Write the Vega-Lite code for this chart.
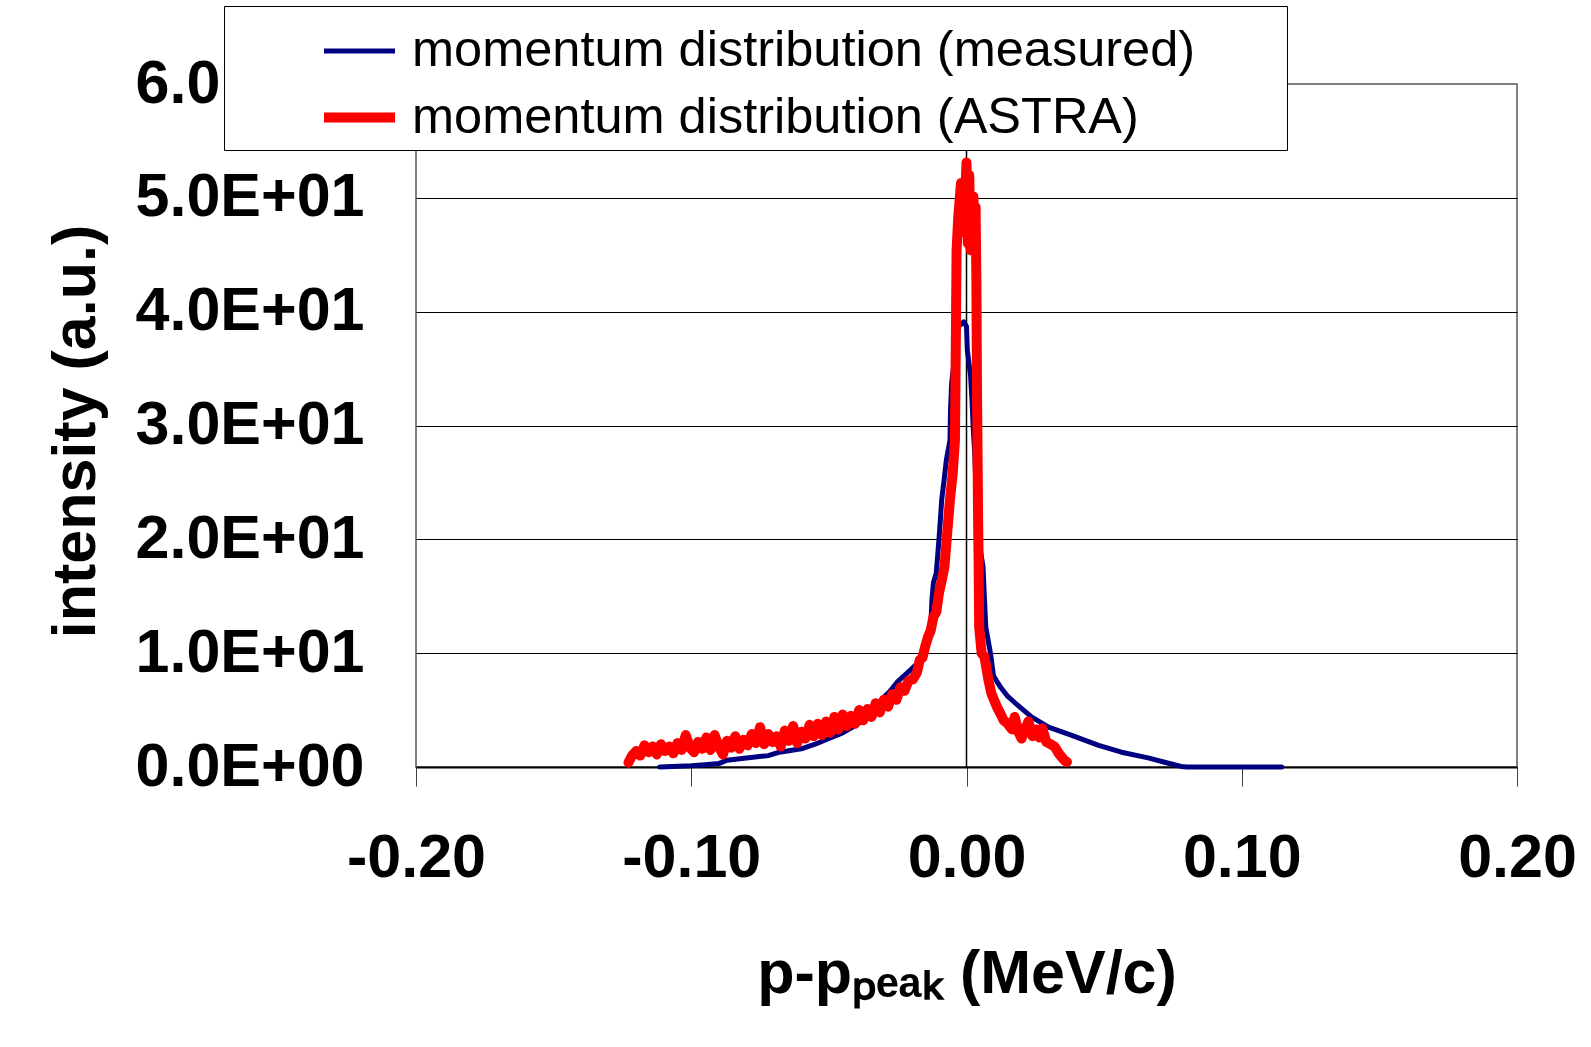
{
  "$schema": "https://vega.github.io/schema/vega-lite/v6.json",
  "width": 1101,
  "height": 683,
  "autosize": {"type": "none"},
  "padding": {"left": 416, "top": 84, "right": 74, "bottom": 280},
  "background": "white",
  "config": {"font": "Liberation Sans", "view": {"stroke": "#808080", "strokeWidth": 2}},
  "datasets": {
    "curves": [
      {"s": "measured", "p": -0.1115, "v": 0},
      {"s": "measured", "p": -0.1, "v": 0.1},
      {"s": "measured", "p": -0.095, "v": 0.2},
      {"s": "measured", "p": -0.09, "v": 0.3},
      {"s": "measured", "p": -0.087, "v": 0.6},
      {"s": "measured", "p": -0.08, "v": 0.8},
      {"s": "measured", "p": -0.072, "v": 1.0},
      {"s": "measured", "p": -0.068, "v": 1.3},
      {"s": "measured", "p": -0.06, "v": 1.6},
      {"s": "measured", "p": -0.055, "v": 2.0},
      {"s": "measured", "p": -0.05, "v": 2.5},
      {"s": "measured", "p": -0.045, "v": 3.0},
      {"s": "measured", "p": -0.04, "v": 3.7},
      {"s": "measured", "p": -0.035, "v": 4.6},
      {"s": "measured", "p": -0.031, "v": 5.9},
      {"s": "measured", "p": -0.028, "v": 6.6},
      {"s": "measured", "p": -0.025, "v": 7.5},
      {"s": "measured", "p": -0.02, "v": 8.6},
      {"s": "measured", "p": -0.017, "v": 9.3},
      {"s": "measured", "p": -0.015, "v": 9.8},
      {"s": "measured", "p": -0.013, "v": 12.3},
      {"s": "measured", "p": -0.0125, "v": 14.9},
      {"s": "measured", "p": -0.012, "v": 16.2},
      {"s": "measured", "p": -0.011, "v": 17.0},
      {"s": "measured", "p": -0.01, "v": 20.0},
      {"s": "measured", "p": -0.0095, "v": 21.7},
      {"s": "measured", "p": -0.009, "v": 23.5},
      {"s": "measured", "p": -0.008, "v": 25.5},
      {"s": "measured", "p": -0.0073, "v": 27.0},
      {"s": "measured", "p": -0.006, "v": 28.7},
      {"s": "measured", "p": -0.0058, "v": 31.4},
      {"s": "measured", "p": -0.0054, "v": 33.7},
      {"s": "measured", "p": -0.004, "v": 36.6},
      {"s": "measured", "p": -0.003, "v": 38.7},
      {"s": "measured", "p": -0.001, "v": 39.1},
      {"s": "measured", "p": 0.0, "v": 38.7},
      {"s": "measured", "p": 0.0003, "v": 36.6},
      {"s": "measured", "p": 0.0015, "v": 34.3},
      {"s": "measured", "p": 0.002, "v": 32.2},
      {"s": "measured", "p": 0.0025, "v": 29.5},
      {"s": "measured", "p": 0.003, "v": 27.5},
      {"s": "measured", "p": 0.0037, "v": 22.8},
      {"s": "measured", "p": 0.0044, "v": 20.0},
      {"s": "measured", "p": 0.006, "v": 17.6},
      {"s": "measured", "p": 0.0065, "v": 14.9},
      {"s": "measured", "p": 0.007, "v": 12.3},
      {"s": "measured", "p": 0.0087, "v": 10.0},
      {"s": "measured", "p": 0.0098, "v": 8.0},
      {"s": "measured", "p": 0.0124, "v": 7.0},
      {"s": "measured", "p": 0.015, "v": 6.2},
      {"s": "measured", "p": 0.0178, "v": 5.6},
      {"s": "measured", "p": 0.0236, "v": 4.4},
      {"s": "measured", "p": 0.0298, "v": 3.5},
      {"s": "measured", "p": 0.038, "v": 2.8},
      {"s": "measured", "p": 0.048, "v": 1.9},
      {"s": "measured", "p": 0.0563, "v": 1.3},
      {"s": "measured", "p": 0.066, "v": 0.8},
      {"s": "measured", "p": 0.073, "v": 0.35},
      {"s": "measured", "p": 0.078, "v": 0.05},
      {"s": "measured", "p": 0.08, "v": 0},
      {"s": "measured", "p": 0.1145, "v": 0},
      {"s": "ASTRA", "p": -0.1228, "v": 0.4},
      {"s": "ASTRA", "p": -0.1215, "v": 1.0},
      {"s": "ASTRA", "p": -0.12, "v": 1.4},
      {"s": "ASTRA", "p": -0.1185, "v": 1.0},
      {"s": "ASTRA", "p": -0.117, "v": 1.9},
      {"s": "ASTRA", "p": -0.1155, "v": 1.3},
      {"s": "ASTRA", "p": -0.114, "v": 1.8},
      {"s": "ASTRA", "p": -0.1125, "v": 1.1},
      {"s": "ASTRA", "p": -0.111, "v": 2.0},
      {"s": "ASTRA", "p": -0.1095, "v": 1.4},
      {"s": "ASTRA", "p": -0.108, "v": 1.8},
      {"s": "ASTRA", "p": -0.1065, "v": 1.2},
      {"s": "ASTRA", "p": -0.105, "v": 2.1},
      {"s": "ASTRA", "p": -0.1035, "v": 1.5},
      {"s": "ASTRA", "p": -0.102, "v": 2.8},
      {"s": "ASTRA", "p": -0.1005, "v": 1.7},
      {"s": "ASTRA", "p": -0.099, "v": 1.3},
      {"s": "ASTRA", "p": -0.0975, "v": 2.2},
      {"s": "ASTRA", "p": -0.096, "v": 1.6},
      {"s": "ASTRA", "p": -0.0945, "v": 2.6},
      {"s": "ASTRA", "p": -0.093, "v": 1.5},
      {"s": "ASTRA", "p": -0.0915, "v": 2.8},
      {"s": "ASTRA", "p": -0.09, "v": 1.8},
      {"s": "ASTRA", "p": -0.0885, "v": 1.1},
      {"s": "ASTRA", "p": -0.087, "v": 2.3},
      {"s": "ASTRA", "p": -0.0855, "v": 1.7},
      {"s": "ASTRA", "p": -0.084, "v": 2.7},
      {"s": "ASTRA", "p": -0.0825, "v": 1.6},
      {"s": "ASTRA", "p": -0.081, "v": 2.4},
      {"s": "ASTRA", "p": -0.0795, "v": 1.9},
      {"s": "ASTRA", "p": -0.078, "v": 2.9},
      {"s": "ASTRA", "p": -0.0765, "v": 2.1},
      {"s": "ASTRA", "p": -0.075, "v": 3.5},
      {"s": "ASTRA", "p": -0.0735, "v": 2.0},
      {"s": "ASTRA", "p": -0.072, "v": 2.9},
      {"s": "ASTRA", "p": -0.0705, "v": 2.2},
      {"s": "ASTRA", "p": -0.069, "v": 2.7},
      {"s": "ASTRA", "p": -0.0675, "v": 1.8},
      {"s": "ASTRA", "p": -0.066, "v": 3.2},
      {"s": "ASTRA", "p": -0.0645, "v": 2.3},
      {"s": "ASTRA", "p": -0.063, "v": 3.6},
      {"s": "ASTRA", "p": -0.0615, "v": 2.1},
      {"s": "ASTRA", "p": -0.06, "v": 3.1},
      {"s": "ASTRA", "p": -0.0585, "v": 2.5},
      {"s": "ASTRA", "p": -0.057, "v": 3.7},
      {"s": "ASTRA", "p": -0.0555, "v": 2.7},
      {"s": "ASTRA", "p": -0.054, "v": 3.8},
      {"s": "ASTRA", "p": -0.0525, "v": 2.8},
      {"s": "ASTRA", "p": -0.051, "v": 4.0},
      {"s": "ASTRA", "p": -0.0495, "v": 3.0},
      {"s": "ASTRA", "p": -0.048, "v": 4.4},
      {"s": "ASTRA", "p": -0.0465, "v": 3.3},
      {"s": "ASTRA", "p": -0.045, "v": 4.6},
      {"s": "ASTRA", "p": -0.0435, "v": 3.6},
      {"s": "ASTRA", "p": -0.042, "v": 4.5},
      {"s": "ASTRA", "p": -0.0405, "v": 3.8},
      {"s": "ASTRA", "p": -0.039, "v": 5.0},
      {"s": "ASTRA", "p": -0.0375, "v": 4.1},
      {"s": "ASTRA", "p": -0.036, "v": 5.1},
      {"s": "ASTRA", "p": -0.0345, "v": 4.4},
      {"s": "ASTRA", "p": -0.033, "v": 5.6},
      {"s": "ASTRA", "p": -0.0315, "v": 4.8},
      {"s": "ASTRA", "p": -0.03, "v": 5.9},
      {"s": "ASTRA", "p": -0.0285, "v": 5.3},
      {"s": "ASTRA", "p": -0.027, "v": 6.4},
      {"s": "ASTRA", "p": -0.0255, "v": 5.9},
      {"s": "ASTRA", "p": -0.024, "v": 7.0},
      {"s": "ASTRA", "p": -0.0225, "v": 6.7},
      {"s": "ASTRA", "p": -0.021, "v": 7.6},
      {"s": "ASTRA", "p": -0.0195, "v": 7.7},
      {"s": "ASTRA", "p": -0.018, "v": 8.3},
      {"s": "ASTRA", "p": -0.017, "v": 9.4},
      {"s": "ASTRA", "p": -0.016, "v": 9.6},
      {"s": "ASTRA", "p": -0.015, "v": 10.6},
      {"s": "ASTRA", "p": -0.014, "v": 11.4},
      {"s": "ASTRA", "p": -0.013, "v": 12.0},
      {"s": "ASTRA", "p": -0.012, "v": 13.2},
      {"s": "ASTRA", "p": -0.011, "v": 13.6},
      {"s": "ASTRA", "p": -0.01, "v": 15.3},
      {"s": "ASTRA", "p": -0.009, "v": 16.4},
      {"s": "ASTRA", "p": -0.008, "v": 17.6},
      {"s": "ASTRA", "p": -0.007, "v": 20.6},
      {"s": "ASTRA", "p": -0.006, "v": 23.5},
      {"s": "ASTRA", "p": -0.005, "v": 25.8},
      {"s": "ASTRA", "p": -0.0042, "v": 28.7},
      {"s": "ASTRA", "p": -0.004, "v": 34.0},
      {"s": "ASTRA", "p": -0.0038, "v": 39.5},
      {"s": "ASTRA", "p": -0.0036, "v": 45.4},
      {"s": "ASTRA", "p": -0.003, "v": 48.3},
      {"s": "ASTRA", "p": -0.002, "v": 51.3},
      {"s": "ASTRA", "p": -0.001, "v": 47.0},
      {"s": "ASTRA", "p": 0.0, "v": 53.1},
      {"s": "ASTRA", "p": 0.0005, "v": 46.0},
      {"s": "ASTRA", "p": 0.001, "v": 52.0},
      {"s": "ASTRA", "p": 0.0015, "v": 45.4},
      {"s": "ASTRA", "p": 0.002, "v": 49.5},
      {"s": "ASTRA", "p": 0.0025, "v": 50.1},
      {"s": "ASTRA", "p": 0.003, "v": 46.5},
      {"s": "ASTRA", "p": 0.0033, "v": 49.2},
      {"s": "ASTRA", "p": 0.0036, "v": 42.5},
      {"s": "ASTRA", "p": 0.0038, "v": 33.7},
      {"s": "ASTRA", "p": 0.004, "v": 27.9},
      {"s": "ASTRA", "p": 0.0042, "v": 22.0},
      {"s": "ASTRA", "p": 0.0044, "v": 18.2},
      {"s": "ASTRA", "p": 0.0046, "v": 12.3},
      {"s": "ASTRA", "p": 0.0055, "v": 10.0},
      {"s": "ASTRA", "p": 0.0065, "v": 9.7},
      {"s": "ASTRA", "p": 0.008, "v": 7.6},
      {"s": "ASTRA", "p": 0.009, "v": 6.5},
      {"s": "ASTRA", "p": 0.01, "v": 5.9},
      {"s": "ASTRA", "p": 0.011, "v": 5.3},
      {"s": "ASTRA", "p": 0.0125, "v": 4.6},
      {"s": "ASTRA", "p": 0.0135, "v": 4.1},
      {"s": "ASTRA", "p": 0.015, "v": 3.8},
      {"s": "ASTRA", "p": 0.0165, "v": 3.3},
      {"s": "ASTRA", "p": 0.0175, "v": 4.4},
      {"s": "ASTRA", "p": 0.019, "v": 3.0},
      {"s": "ASTRA", "p": 0.02, "v": 2.5},
      {"s": "ASTRA", "p": 0.0215, "v": 3.4},
      {"s": "ASTRA", "p": 0.0225, "v": 4.0},
      {"s": "ASTRA", "p": 0.024, "v": 2.7},
      {"s": "ASTRA", "p": 0.0255, "v": 3.3},
      {"s": "ASTRA", "p": 0.0265, "v": 2.6},
      {"s": "ASTRA", "p": 0.0275, "v": 3.4},
      {"s": "ASTRA", "p": 0.029, "v": 2.2},
      {"s": "ASTRA", "p": 0.0305, "v": 2.0},
      {"s": "ASTRA", "p": 0.032, "v": 1.8},
      {"s": "ASTRA", "p": 0.0335, "v": 1.2},
      {"s": "ASTRA", "p": 0.0345, "v": 0.9},
      {"s": "ASTRA", "p": 0.0355, "v": 0.6},
      {"s": "ASTRA", "p": 0.0365, "v": 0.45}
    ]
  },
  "layer": [
    {
      "data": {"values": [{}]},
      "mark": {"type": "rule", "color": "black", "strokeWidth": 1.5},
      "encoding": {"x": {"datum": 0, "type": "quantitative"}}
    },
    {
      "data": {"name": "curves"},
      "mark": {"type": "line", "strokeCap": "round", "strokeJoin": "round"},
      "encoding": {
        "x": {
          "field": "p",
          "type": "quantitative",
          "scale": {"domain": [-0.2, 0.2], "nice": false, "zero": false},
          "axis": {
            "values": [-0.2, -0.1, 0, 0.1, 0.2],
            "labelExpr": "datum.value < 0 ? '-' + format(-datum.value, '.2f') : format(datum.value, '.2f')",
            "grid": false,
            "labelFlush": false,
            "labelOverlap": false,
            "labelFont": "Liberation Sans",
            "labelFontSize": 61,
            "labelFontWeight": "bold",
            "labelColor": "black",
            "labelPadding": 42,
            "tickSize": 19,
            "tickColor": "#404040",
            "domainColor": "black",
            "domainWidth": 2,
            "title": "p-p\u209a\u2091\u2090\u2096 (MeV/c)",
            "titleFont": "Liberation Sans",
            "titleFontSize": 61,
            "titleFontWeight": "bold",
            "titleColor": "black",
            "titlePadding": 56
          }
        },
        "y": {
          "field": "v",
          "type": "quantitative",
          "scale": {"domain": [0, 60], "nice": false},
          "axis": {
            "values": [0, 10, 20, 30, 40, 50, 60],
            "labelExpr": "datum.value == 0 ? '0.0E+00' : format(datum.value / 10, '.1f') + 'E+01'",
            "ticks": false,
            "domain": false,
            "grid": true,
            "gridColor": {"condition": {"test": "datum.value == 60", "value": "#808080"}, "value": "black"},
            "gridWidth": 1,
            "labelLimit": 0,
            "labelFlush": false,
            "labelOverlap": false,
            "labelFont": "Liberation Sans",
            "labelFontSize": 61,
            "labelFontWeight": "bold",
            "labelColor": "black",
            "labelPadding": 52,
            "title": "intensity (a.u.)",
            "titleFont": "Liberation Sans",
            "titleFontSize": 61,
            "titleFontWeight": "bold",
            "titleColor": "black",
            "titleAngle": -90,
            "titleBaseline": "bottom",
            "titleAlign": "center",
            "titleX": -309,
            "titleY": 347
          }
        },
        "color": {
          "field": "s",
          "type": "nominal",
          "sort": ["measured", "ASTRA"],
          "scale": {"domain": ["measured", "ASTRA"], "range": ["#000080", "#FF0000"]},
          "legend": {
            "orient": "none",
            "legendX": -192,
            "legendY": -78,
            "title": null,
            "labelExpr": "'momentum distribution (' + datum.label + ')\u00a0\u00a0\u00a0\u00a0\u00a0\u00a0\u200b'",
            "labelFont": "Liberation Sans",
            "labelFontSize": 50.5,
            "labelColor": "black",
            "labelLimit": 0,
            "symbolType": "stroke",
            "symbolSize": 5041,
            "symbolOffset": 88,
            "labelOffset": 12,
            "padding": 7,
            "rowPadding": 0,
            "fillColor": "white",
            "strokeColor": "black",
            "zindex": 5
          }
        },
        "strokeWidth": {
          "field": "s",
          "type": "nominal",
          "sort": ["measured", "ASTRA"],
          "scale": {"type": "point", "padding": 0, "domain": ["measured", "ASTRA"], "range": [5, 10]}
        }
      }
    }
  ]
}
